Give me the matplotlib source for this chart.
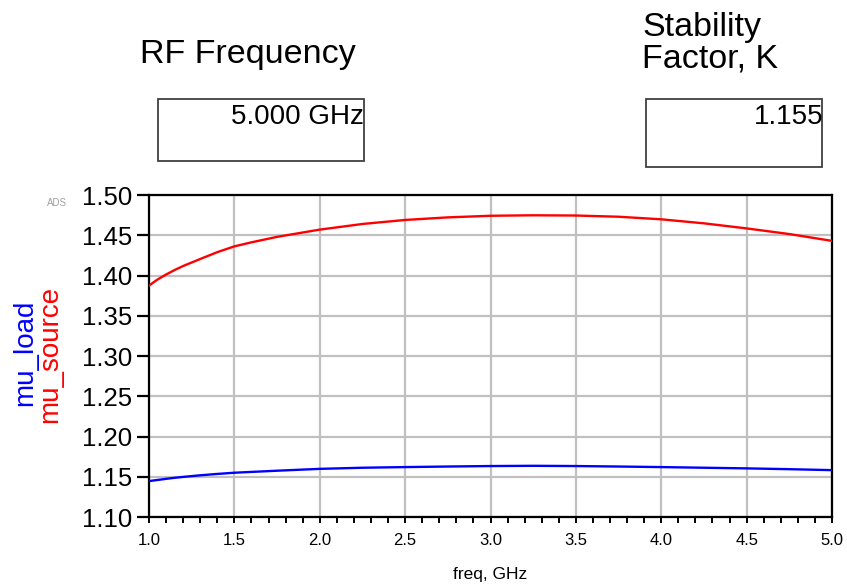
import matplotlib
matplotlib.use("Agg")
import matplotlib.pyplot as plt
from matplotlib.ticker import MultipleLocator
from matplotlib.patches import Rectangle

plt.rcParams['font.family'] = ['Liberation Sans', 'DejaVu Sans']

# Data
freq = [1.0, 1.05, 1.1, 1.15, 1.2, 1.3, 1.4, 1.5, 1.6, 1.75, 2.0, 2.25, 2.5, 2.75, 3.0, 3.25, 3.5, 3.75,
        4.0, 4.25, 4.5, 4.75, 5.0]
mu_source = [1.3875, 1.3950, 1.4012, 1.4068, 1.4118, 1.4205, 1.4290, 1.4362, 1.4412, 1.4480, 1.4570, 1.4640,
             1.4690, 1.4722, 1.4742, 1.4748, 1.4745, 1.4730, 1.4698, 1.4648, 1.4585, 1.4515, 1.4430]
mu_load = [1.1446, 1.1460, 1.1474, 1.1487, 1.1498, 1.1518, 1.1535, 1.1550, 1.1560, 1.1575, 1.1598, 1.1612,
           1.1620, 1.1627, 1.1633, 1.1636, 1.1633, 1.1627, 1.1620, 1.1612, 1.1604, 1.1594, 1.1582]

x_ticks = [1.0, 1.5, 2.0, 2.5, 3.0, 3.5, 4.0, 4.5, 5.0]
y_ticks = [1.10, 1.15, 1.20, 1.25, 1.30, 1.35, 1.40, 1.45, 1.50]

W, H = 847, 584
fig = plt.figure(figsize=(W / 100, H / 100), dpi=100)
ax = fig.add_axes([149 / W, 1 - 517 / H, (832 - 149) / W, (517 - 195) / H])

ax.plot(freq, mu_source, color='#ff0000', lw=1.7, zorder=3)
ax.plot(freq, mu_load, color='#0000ff', lw=1.7, zorder=3)

ax.set_xlim(1.0, 5.0)
ax.set_ylim(1.10, 1.50)
ax.set_xticks(x_ticks)
ax.set_xticklabels([f"{v:.1f}" for v in x_ticks])
ax.set_yticks(y_ticks)
ax.set_yticklabels([f"{v:.2f}" for v in y_ticks])
ax.xaxis.set_minor_locator(MultipleLocator(0.1))

ax.grid(True, which='major', color='#c0c0c0', lw=1.6)
ax.set_axisbelow(True)
for s in ax.spines.values():
    s.set_color('black')
    s.set_linewidth(1.6)

ax.tick_params(axis='y', which='major', length=8.6, width=1.6, pad=3.5, labelsize=18.5, colors='black')
ax.tick_params(axis='x', which='major', length=4.5, width=1.4, pad=7, labelsize=12)
ax.tick_params(axis='x', which='minor', length=4.5, width=1.4)

ax.set_xlabel("freq, GHz", fontsize=12.5, labelpad=14)

fig.text(25 / W, 1 - 353 / H, "mu_load", color='#0000ff', fontsize=20, rotation=90,
         ha='center', va='center')
fig.text(50 / W, 1 - 354 / H, "mu_source", color='#ff0000', fontsize=20, rotation=90,
         ha='center', va='center')
fig.text(57 / W, 1 - 203 / H, "ADS", color='#a0a0a0', fontsize=7, ha='center', va='center')

# Top text and boxes
fig.text(140 / W, 1 - 55 / H, "RF Frequency", fontsize=24.5, ha='left', va='center')
fig.text(642 / W, 1 - 43 / H, "Stability\nFactor, K", fontsize=24.5, ha='left', va='center',
         linespacing=1.0)

fig.patches.append(Rectangle((158 / W, 1 - 160.5 / H), (364 - 158) / W, (160.5 - 99) / H,
                             transform=fig.transFigure, fill=False, ec='#404040', lw=1.3))
fig.patches.append(Rectangle((645.5 / W, 1 - 167 / H), (822 - 645.5) / W, (167 - 99) / H,
                             transform=fig.transFigure, fill=False, ec='#404040', lw=1.3))
fig.text(364 / W, 1 - 124 / H, "5.000 GHz", fontsize=20, ha='right', va='baseline')
fig.text(823 / W, 1 - 124 / H, "1.155", fontsize=20, ha='right', va='baseline')

fig.savefig("out.png", dpi=100)
